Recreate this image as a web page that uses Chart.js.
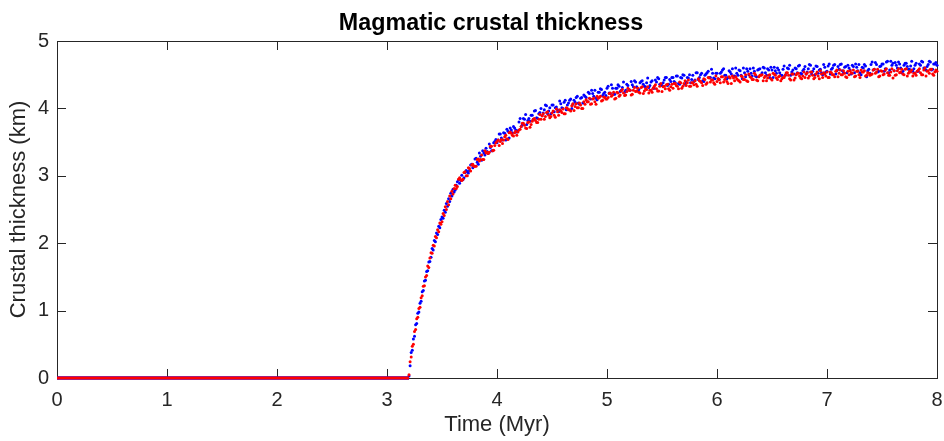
<!DOCTYPE html>
<html>
<head>
<meta charset="utf-8">
<title>Magmatic crustal thickness</title>
<script src="https://cdn.jsdelivr.net/npm/chart.js@4/dist/chart.umd.min.js"></script>
<style>
  html, body { margin: 0; padding: 0; background: #fff; }
  canvas { display: block; }
</style>
</head>
<body>
<canvas id="chart" width="944" height="441"></canvas>
<script>
// axis ticks
const xTicks = [0, 1, 2, 3, 4, 5, 6, 7, 8];
const yTicks = [0, 1, 2, 3, 4, 5];

// flat part before onset (thickness stays 0 until ~3.2 Myr)
const flatTime = [0, 3.2];
const flatKm = [0, 0];

// sample times (Myr), after onset
const timeMyr = [
  3.20, 3.21, 3.22, 3.23, 3.24, 3.25, 3.26, 3.27, 3.28, 3.29,
  3.30, 3.31, 3.32, 3.33, 3.34, 3.35, 3.36, 3.37, 3.38, 3.39,
  3.40, 3.41, 3.42, 3.43, 3.44, 3.45, 3.46, 3.47, 3.48, 3.49,
  3.50, 3.51, 3.52, 3.53, 3.54, 3.55, 3.56, 3.57, 3.58, 3.59,
  3.60, 3.62, 3.64, 3.66, 3.68, 3.70, 3.72, 3.74, 3.76, 3.78,
  3.80, 3.82, 3.84, 3.86, 3.88, 3.90, 3.92, 3.94, 3.96, 3.98,
  4.00, 4.02, 4.04, 4.06, 4.08, 4.10, 4.12, 4.14, 4.16, 4.18,
  4.20, 4.22, 4.24, 4.26, 4.28, 4.30, 4.32, 4.34, 4.36, 4.38,
  4.40, 4.42, 4.44, 4.46, 4.48, 4.50, 4.52, 4.54, 4.56, 4.58,
  4.60, 4.62, 4.64, 4.66, 4.68, 4.70, 4.72, 4.74, 4.76, 4.78,
  4.80, 4.82, 4.84, 4.86, 4.88, 4.90, 4.92, 4.94, 4.96, 4.98,
  5.00, 5.02, 5.04, 5.06, 5.08, 5.10, 5.12, 5.14, 5.16, 5.18,
  5.20, 5.22, 5.24, 5.26, 5.28, 5.30, 5.32, 5.34, 5.36, 5.38,
  5.40, 5.42, 5.44, 5.46, 5.48, 5.50, 5.52, 5.54, 5.56, 5.58,
  5.60, 5.62, 5.64, 5.66, 5.68, 5.70, 5.72, 5.74, 5.76, 5.78,
  5.80, 5.82, 5.84, 5.86, 5.88, 5.90, 5.92, 5.94, 5.96, 5.98,
  6.00, 6.02, 6.04, 6.06, 6.08, 6.10, 6.12, 6.14, 6.16, 6.18,
  6.20, 6.22, 6.24, 6.26, 6.28, 6.30, 6.32, 6.34, 6.36, 6.38,
  6.40, 6.42, 6.44, 6.46, 6.48, 6.50, 6.52, 6.54, 6.56, 6.58,
  6.60, 6.62, 6.64, 6.66, 6.68, 6.70, 6.72, 6.74, 6.76, 6.78,
  6.80, 6.82, 6.84, 6.86, 6.88, 6.90, 6.92, 6.94, 6.96, 6.98,
  7.00, 7.02, 7.04, 7.06, 7.08, 7.10, 7.12, 7.14, 7.16, 7.18,
  7.20, 7.22, 7.24, 7.26, 7.28, 7.30, 7.32, 7.34, 7.36, 7.38,
  7.40, 7.42, 7.44, 7.46, 7.48, 7.50, 7.52, 7.54, 7.56, 7.58,
  7.60, 7.62, 7.64, 7.66, 7.68, 7.70, 7.72, 7.74, 7.76, 7.78,
  7.80, 7.82, 7.84, 7.86, 7.88, 7.90, 7.92, 7.94, 7.96, 7.98,
  8.00
];

// blue series (km)
const blueKm = [
  0.03, 0.18, 0.38, 0.41, 0.58, 0.62, 0.79, 0.81, 0.96, 0.98,
  1.11, 1.14, 1.28, 1.30, 1.44, 1.45, 1.58, 1.59, 1.72, 1.73,
  1.79, 1.92, 1.90, 2.04, 2.02, 2.15, 2.13, 2.25, 2.23, 2.35,
  2.39, 2.37, 2.49, 2.46, 2.59, 2.55, 2.66, 2.62, 2.74, 2.70,
  2.80, 2.79, 2.91, 2.89, 3.01, 2.97, 3.08, 3.04, 3.16, 3.12,
  3.25, 3.20, 3.34, 3.23, 3.34, 3.41, 3.33, 3.42, 3.37, 3.51,
  3.49, 3.62, 3.56, 3.64, 3.53, 3.66, 3.71, 3.64, 3.71, 3.65,
  3.80, 3.73, 3.85, 3.91, 3.82, 3.81, 3.90, 3.96, 3.86, 3.92,
  4.00, 3.93, 4.05, 3.92, 4.01, 4.05, 3.95, 4.02, 3.95, 4.07,
  4.00, 4.12, 4.05, 4.12, 4.00, 4.12, 4.16, 4.08, 4.15, 4.08,
  4.18, 4.10, 4.22, 4.27, 4.18, 4.15, 4.24, 4.29, 4.19, 4.24,
  4.30, 4.23, 4.35, 4.21, 4.30, 4.35, 4.25, 4.31, 4.24, 4.36,
  4.28, 4.40, 4.32, 4.39, 4.26, 4.38, 4.41, 4.33, 4.38, 4.31,
  4.39, 4.30, 4.42, 4.46, 4.36, 4.34, 4.42, 4.46, 4.36, 4.40,
  4.46, 4.38, 4.48, 4.36, 4.45, 4.49, 4.39, 4.45, 4.38, 4.49,
  4.42, 4.53, 4.46, 4.52, 4.40, 4.51, 4.55, 4.46, 4.52, 4.44,
  4.52, 4.43, 4.54, 4.59, 4.49, 4.46, 4.54, 4.59, 4.48, 4.52,
  4.57, 4.49, 4.60, 4.47, 4.55, 4.59, 4.48, 4.55, 4.47, 4.58,
  4.50, 4.61, 4.53, 4.59, 4.46, 4.57, 4.61, 4.52, 4.57, 4.49,
  4.58, 4.49, 4.60, 4.64, 4.54, 4.51, 4.59, 4.63, 4.52, 4.56,
  4.62, 4.54, 4.65, 4.51, 4.59, 4.63, 4.52, 4.58, 4.50, 4.61,
  4.55, 4.66, 4.58, 4.64, 4.51, 4.62, 4.65, 4.56, 4.61, 4.53,
  4.60, 4.51, 4.62, 4.66, 4.56, 4.53, 4.61, 4.65, 4.47, 4.58,
  4.65, 4.57, 4.68, 4.54, 4.62, 4.66, 4.55, 4.69, 4.53, 4.70,
  4.67, 4.68, 4.60, 4.66, 4.53, 4.64, 4.67, 4.58, 4.63, 4.55,
  4.64, 4.55, 4.66, 4.70, 4.60, 4.57, 4.65, 4.69, 4.58, 4.66,
  4.64
];

// red series (km)
const redKm = [
  0.05, 0.24, 0.31, 0.47, 0.50, 0.69, 0.72, 0.88, 0.90, 1.03,
  1.05, 1.19, 1.22, 1.36, 1.37, 1.50, 1.52, 1.66, 1.64, 1.78,
  1.86, 1.85, 1.97, 1.96, 2.10, 2.08, 2.20, 2.17, 2.30, 2.28,
  2.32, 2.44, 2.41, 2.54, 2.50, 2.62, 2.57, 2.70, 2.66, 2.77,
  2.73, 2.86, 2.84, 2.97, 2.93, 3.05, 3.00, 3.12, 3.07, 3.17,
  3.14, 3.24, 3.22, 3.31, 3.24, 3.34, 3.33, 3.44, 3.37, 3.45,
  3.51, 3.45, 3.54, 3.53, 3.60, 3.54, 3.65, 3.60, 3.64, 3.60,
  3.68, 3.73, 3.78, 3.71, 3.79, 3.72, 3.81, 3.85, 3.79, 3.84,
  3.84, 3.92, 3.88, 3.95, 3.86, 3.93, 3.90, 3.99, 3.90, 3.96,
  3.99, 3.92, 4.00, 3.98, 4.04, 3.97, 4.07, 4.01, 4.05, 4.00,
  4.06, 4.10, 4.15, 4.07, 4.15, 4.06, 4.15, 4.18, 4.12, 4.16,
  4.14, 4.22, 4.18, 4.24, 4.15, 4.23, 4.20, 4.28, 4.19, 4.25,
  4.27, 4.20, 4.27, 4.25, 4.30, 4.23, 4.32, 4.26, 4.28, 4.23,
  4.27, 4.30, 4.35, 4.26, 4.33, 4.25, 4.33, 4.35, 4.29, 4.32,
  4.30, 4.37, 4.33, 4.39, 4.30, 4.37, 4.34, 4.42, 4.33, 4.38,
  4.41, 4.33, 4.41, 4.38, 4.44, 4.36, 4.46, 4.39, 4.42, 4.36,
  4.40, 4.43, 4.47, 4.39, 4.46, 4.37, 4.45, 4.48, 4.41, 4.44,
  4.41, 4.48, 4.43, 4.50, 4.40, 4.47, 4.43, 4.52, 4.42, 4.47,
  4.49, 4.41, 4.48, 4.45, 4.50, 4.42, 4.51, 4.45, 4.47, 4.41,
  4.46, 4.49, 4.53, 4.44, 4.51, 4.42, 4.50, 4.52, 4.45, 4.48,
  4.46, 4.53, 4.48, 4.54, 4.44, 4.51, 4.48, 4.56, 4.46, 4.51,
  4.54, 4.46, 4.53, 4.50, 4.55, 4.47, 4.57, 4.50, 4.52, 4.46,
  4.50, 4.53, 4.57, 4.48, 4.55, 4.46, 4.54, 4.56, 4.49, 4.52,
  4.50, 4.57, 4.52, 4.58, 4.48, 4.55, 4.51, 4.59, 4.49, 4.54,
  4.45, 4.49, 4.56, 4.53, 4.58, 4.50, 4.59, 4.52, 4.54, 4.48,
  4.52, 4.55, 4.59, 4.50, 4.57, 4.48, 4.56, 4.58, 4.51, 4.54,
  4.55
];

// in-between samples (odd hundredths of Myr)
const timeMidMyr = [
  3.61, 3.63, 3.65, 3.67, 3.69, 3.71, 3.73, 3.75, 3.77, 3.79,
  3.81, 3.83, 3.85, 3.87, 3.89, 3.91, 3.93, 3.95, 3.97, 3.99,
  4.01, 4.03, 4.05, 4.07, 4.09, 4.11, 4.13, 4.15, 4.17, 4.19,
  4.21, 4.23, 4.25, 4.27, 4.29, 4.31, 4.33, 4.35, 4.37, 4.39,
  4.41, 4.43, 4.45, 4.47, 4.49, 4.51, 4.53, 4.55, 4.57, 4.59,
  4.61, 4.63, 4.65, 4.67, 4.69, 4.71, 4.73, 4.75, 4.77, 4.79,
  4.81, 4.83, 4.85, 4.87, 4.89, 4.91, 4.93, 4.95, 4.97, 4.99,
  5.01, 5.03, 5.05, 5.07, 5.09, 5.11, 5.13, 5.15, 5.17, 5.19,
  5.21, 5.23, 5.25, 5.27, 5.29, 5.31, 5.33, 5.35, 5.37, 5.39,
  5.41, 5.43, 5.45, 5.47, 5.49, 5.51, 5.53, 5.55, 5.57, 5.59,
  5.61, 5.63, 5.65, 5.67, 5.69, 5.71, 5.73, 5.75, 5.77, 5.79,
  5.81, 5.83, 5.85, 5.87, 5.89, 5.91, 5.93, 5.95, 5.97, 5.99,
  6.01, 6.03, 6.05, 6.07, 6.09, 6.11, 6.13, 6.15, 6.17, 6.19,
  6.21, 6.23, 6.25, 6.27, 6.29, 6.31, 6.33, 6.35, 6.37, 6.39,
  6.41, 6.43, 6.45, 6.47, 6.49, 6.51, 6.53, 6.55, 6.57, 6.59,
  6.61, 6.63, 6.65, 6.67, 6.69, 6.71, 6.73, 6.75, 6.77, 6.79,
  6.81, 6.83, 6.85, 6.87, 6.89, 6.91, 6.93, 6.95, 6.97, 6.99,
  7.01, 7.03, 7.05, 7.07, 7.09, 7.11, 7.13, 7.15, 7.17, 7.19,
  7.21, 7.23, 7.25, 7.27, 7.29, 7.31, 7.33, 7.35, 7.37, 7.39,
  7.41, 7.43, 7.45, 7.47, 7.49, 7.51, 7.53, 7.55, 7.57, 7.59,
  7.61, 7.63, 7.65, 7.67, 7.69, 7.71, 7.73, 7.75, 7.77, 7.79,
  7.81, 7.83, 7.85, 7.87, 7.89, 7.91, 7.93, 7.95, 7.97, 7.99
];

const blueMidKm = [
  2.76, 2.86, 2.94, 2.93, 2.94, 3.05, 3.06, 3.08, 3.17, 3.14,
  3.26, 3.17, 3.29, 3.37, 3.31, 3.36, 3.47, 3.37, 3.49, 3.54,
  3.53, 3.62, 3.53, 3.63, 3.69, 3.56, 3.68, 3.73, 3.68, 3.67,
  3.85, 3.76, 3.84, 3.76, 3.85, 3.90, 3.84, 3.97, 3.85, 3.94,
  3.89, 3.98, 4.04, 3.96, 3.92, 4.05, 4.01, 3.98, 4.11, 4.01,
  4.09, 3.98, 4.08, 4.14, 4.06, 4.09, 4.18, 4.06, 4.16, 4.20,
  4.16, 4.24, 4.14, 4.22, 4.27, 4.13, 4.24, 4.28, 4.22, 4.19,
  4.33, 4.22, 4.30, 4.21, 4.30, 4.33, 4.27, 4.39, 4.27, 4.34,
  4.27, 4.35, 4.41, 4.32, 4.28, 4.40, 4.36, 4.32, 4.45, 4.34,
  4.41, 4.30, 4.39, 4.44, 4.36, 4.38, 4.46, 4.34, 4.43, 4.46,
  4.40, 4.48, 4.37, 4.46, 4.50, 4.36, 4.46, 4.50, 4.43, 4.40,
  4.53, 4.43, 4.50, 4.41, 4.49, 4.53, 4.46, 4.58, 4.45, 4.52,
  4.44, 4.52, 4.57, 4.49, 4.44, 4.56, 4.51, 4.48, 4.60, 4.49,
  4.56, 4.44, 4.53, 4.59, 4.50, 4.52, 4.60, 4.48, 4.57, 4.59,
  4.53, 4.60, 4.49, 4.57, 4.61, 4.46, 4.56, 4.60, 4.53, 4.49,
  4.63, 4.52, 4.59, 4.49, 4.57, 4.60, 4.53, 4.64, 4.51, 4.58,
  4.51, 4.59, 4.64, 4.55, 4.50, 4.62, 4.57, 4.53, 4.65, 4.54,
  4.63, 4.51, 4.60, 4.65, 4.56, 4.58, 4.66, 4.53, 4.62, 4.64,
  4.57, 4.64, 4.53, 4.61, 4.65, 4.50, 4.60, 4.63, 4.56, 4.52,
  4.69, 4.58, 4.65, 4.55, 4.63, 4.66, 4.59, 4.70, 4.57, 4.64,
  4.56, 4.64, 4.69, 4.60, 4.55, 4.67, 4.62, 4.58, 4.70, 4.59,
  4.67, 4.55, 4.64, 4.69, 4.60, 4.62, 4.70, 4.57, 4.66, 4.68
];

const redMidKm = [
  2.81, 2.81, 2.95, 2.94, 2.95, 3.06, 3.00, 3.11, 3.16, 3.14,
  3.14, 3.25, 3.24, 3.24, 3.37, 3.35, 3.35, 3.44, 3.38, 3.49,
  3.53, 3.51, 3.48, 3.58, 3.55, 3.64, 3.63, 3.59, 3.66, 3.65,
  3.69, 3.78, 3.75, 3.70, 3.80, 3.76, 3.84, 3.82, 3.79, 3.91,
  3.89, 3.84, 3.94, 3.90, 3.88, 3.96, 3.87, 3.95, 3.98, 3.94,
  3.92, 4.01, 3.98, 3.96, 4.07, 4.03, 4.01, 4.08, 4.00, 4.10,
  4.13, 4.10, 4.06, 4.14, 4.10, 4.18, 4.16, 4.11, 4.17, 4.14,
  4.16, 4.23, 4.20, 4.14, 4.24, 4.18, 4.26, 4.23, 4.20, 4.30,
  4.27, 4.21, 4.31, 4.26, 4.24, 4.31, 4.22, 4.29, 4.32, 4.27,
  4.24, 4.33, 4.29, 4.26, 4.37, 4.32, 4.29, 4.36, 4.27, 4.36,
  4.37, 4.34, 4.29, 4.38, 4.33, 4.41, 4.38, 4.33, 4.38, 4.35,
  4.36, 4.44, 4.40, 4.34, 4.43, 4.38, 4.45, 4.42, 4.38, 4.48,
  4.44, 4.38, 4.47, 4.43, 4.40, 4.47, 4.37, 4.45, 4.47, 4.42,
  4.39, 4.47, 4.43, 4.41, 4.51, 4.46, 4.43, 4.50, 4.41, 4.49,
  4.50, 4.46, 4.41, 4.49, 4.44, 4.52, 4.49, 4.43, 4.48, 4.44,
  4.46, 4.53, 4.49, 4.42, 4.51, 4.45, 4.52, 4.48, 4.44, 4.54,
  4.51, 4.45, 4.54, 4.49, 4.46, 4.54, 4.44, 4.51, 4.53, 4.48,
  4.46, 4.54, 4.50, 4.47, 4.57, 4.52, 4.50, 4.56, 4.47, 4.55,
  4.56, 4.52, 4.47, 4.55, 4.50, 4.57, 4.54, 4.48, 4.53, 4.49,
  4.51, 4.58, 4.54, 4.47, 4.56, 4.50, 4.57, 4.53, 4.49, 4.59,
  4.56, 4.50, 4.59, 4.54, 4.51, 4.58, 4.48, 4.55, 4.57, 4.52,
  4.49, 4.57, 4.53, 4.50, 4.60, 4.55, 4.52, 4.58, 4.49, 4.57
];

const axisColor = '#262626';
const fontFamily = '"Liberation Sans", Arial, Helvetica, sans-serif';
const tickLen = 9;

const toPoints = (xs, ys) => xs.map((x, i) => ({ x, y: ys[i] }));

// MATLAB style box: frame + inward ticks on all four sides, plus bold title
const axesFrame = {
  id: 'axesFrame',
  beforeDatasetsDraw(chart) {
    const { ctx, chartArea: a, scales: { x, y } } = chart;
    ctx.save();
    ctx.strokeStyle = axisColor;
    ctx.lineWidth = 1;
    ctx.strokeRect(a.left + 0.5, a.top + 0.5, a.right - a.left, a.bottom - a.top);
    ctx.beginPath();
    xTicks.forEach(v => {
      const px = Math.round(x.getPixelForValue(v)) + 0.5;
      ctx.moveTo(px, a.bottom); ctx.lineTo(px, a.bottom - tickLen);
      ctx.moveTo(px, a.top); ctx.lineTo(px, a.top + tickLen);
    });
    yTicks.forEach(v => {
      const py = Math.round(y.getPixelForValue(v)) + 0.5;
      ctx.moveTo(a.left, py); ctx.lineTo(a.left + tickLen, py);
      ctx.moveTo(a.right, py); ctx.lineTo(a.right - tickLen, py);
    });
    ctx.stroke();
    ctx.restore();
  },
  afterDraw(chart) {
    const { ctx, chartArea: a } = chart;
    ctx.save();
    ctx.fillStyle = '#000';
    ctx.font = `bold 23.3px ${fontFamily}`;
    ctx.textAlign = 'center';
    ctx.textBaseline = 'alphabetic';
    ctx.fillText('Magmatic crustal thickness', (a.left + a.right) / 2 - 6, 29.5);
    ctx.restore();
  }
};

const dot = (color, order, xs, ys) => ({
  data: toPoints(xs, ys),
  backgroundColor: color,
  borderWidth: 0,
  pointRadius: 1.5,
  pointStyle: 'circle',
  clip: false,
  order
});

const flat = (color, width, order) => ({
  data: toPoints(flatTime, flatKm),
  showLine: true,
  borderColor: color,
  borderWidth: width,
  pointRadius: 0,
  clip: false,
  order
});

new Chart(document.getElementById('chart'), {
  type: 'scatter',
  data: {
    datasets: [
      flat('#ff0000', 3, 0),
      dot('#ff0000', 1, timeMyr, redKm),
      dot('#ff0000', 2, timeMidMyr, redMidKm),
      flat('#0000ff', 3.6, 3),
      dot('#0000ff', 4, timeMyr, blueKm),
      dot('#0000ff', 5, timeMidMyr, blueMidKm)
    ]
  },
  options: {
    responsive: false,
    devicePixelRatio: 1,
    animation: false,
    events: [],
    layout: { padding: { top: 41, right: 7, left: 0, bottom: 0 } },
    plugins: { legend: { display: false }, tooltip: { enabled: false }, title: { display: false } },
    scales: {
      x: {
        type: 'linear',
        min: 0,
        max: 8,
        afterFit: (s) => { s.height = 63; s.paddingLeft = 0; s.paddingRight = 0; },
        afterBuildTicks: (s) => { s.ticks = xTicks.map(v => ({ value: v })); },
        grid: { display: false, drawTicks: false },
        border: { display: false },
        ticks: { color: axisColor, padding: 10, font: { family: fontFamily, size: 20 } },
        title: {
          display: true,
          text: 'Time (Myr)',
          color: axisColor,
          font: { family: fontFamily, size: 22 },
          padding: { top: 0, bottom: 3 }
        }
      },
      y: {
        type: 'linear',
        min: 0,
        max: 5,
        afterFit: (s) => { s.width = 57; s.paddingTop = 0; s.paddingBottom = 0; },
        afterBuildTicks: (s) => { s.ticks = yTicks.map(v => ({ value: v })); },
        grid: { display: false, drawTicks: false },
        border: { display: false },
        ticks: { color: axisColor, padding: 8, font: { family: fontFamily, size: 20 } },
        title: {
          display: true,
          text: 'Crustal thickness (km)',
          color: axisColor,
          font: { family: fontFamily, size: 22 },
          padding: { top: 6, bottom: 0 }
        }
      }
    }
  },
  plugins: [axesFrame]
});
</script>
</body>
</html>
